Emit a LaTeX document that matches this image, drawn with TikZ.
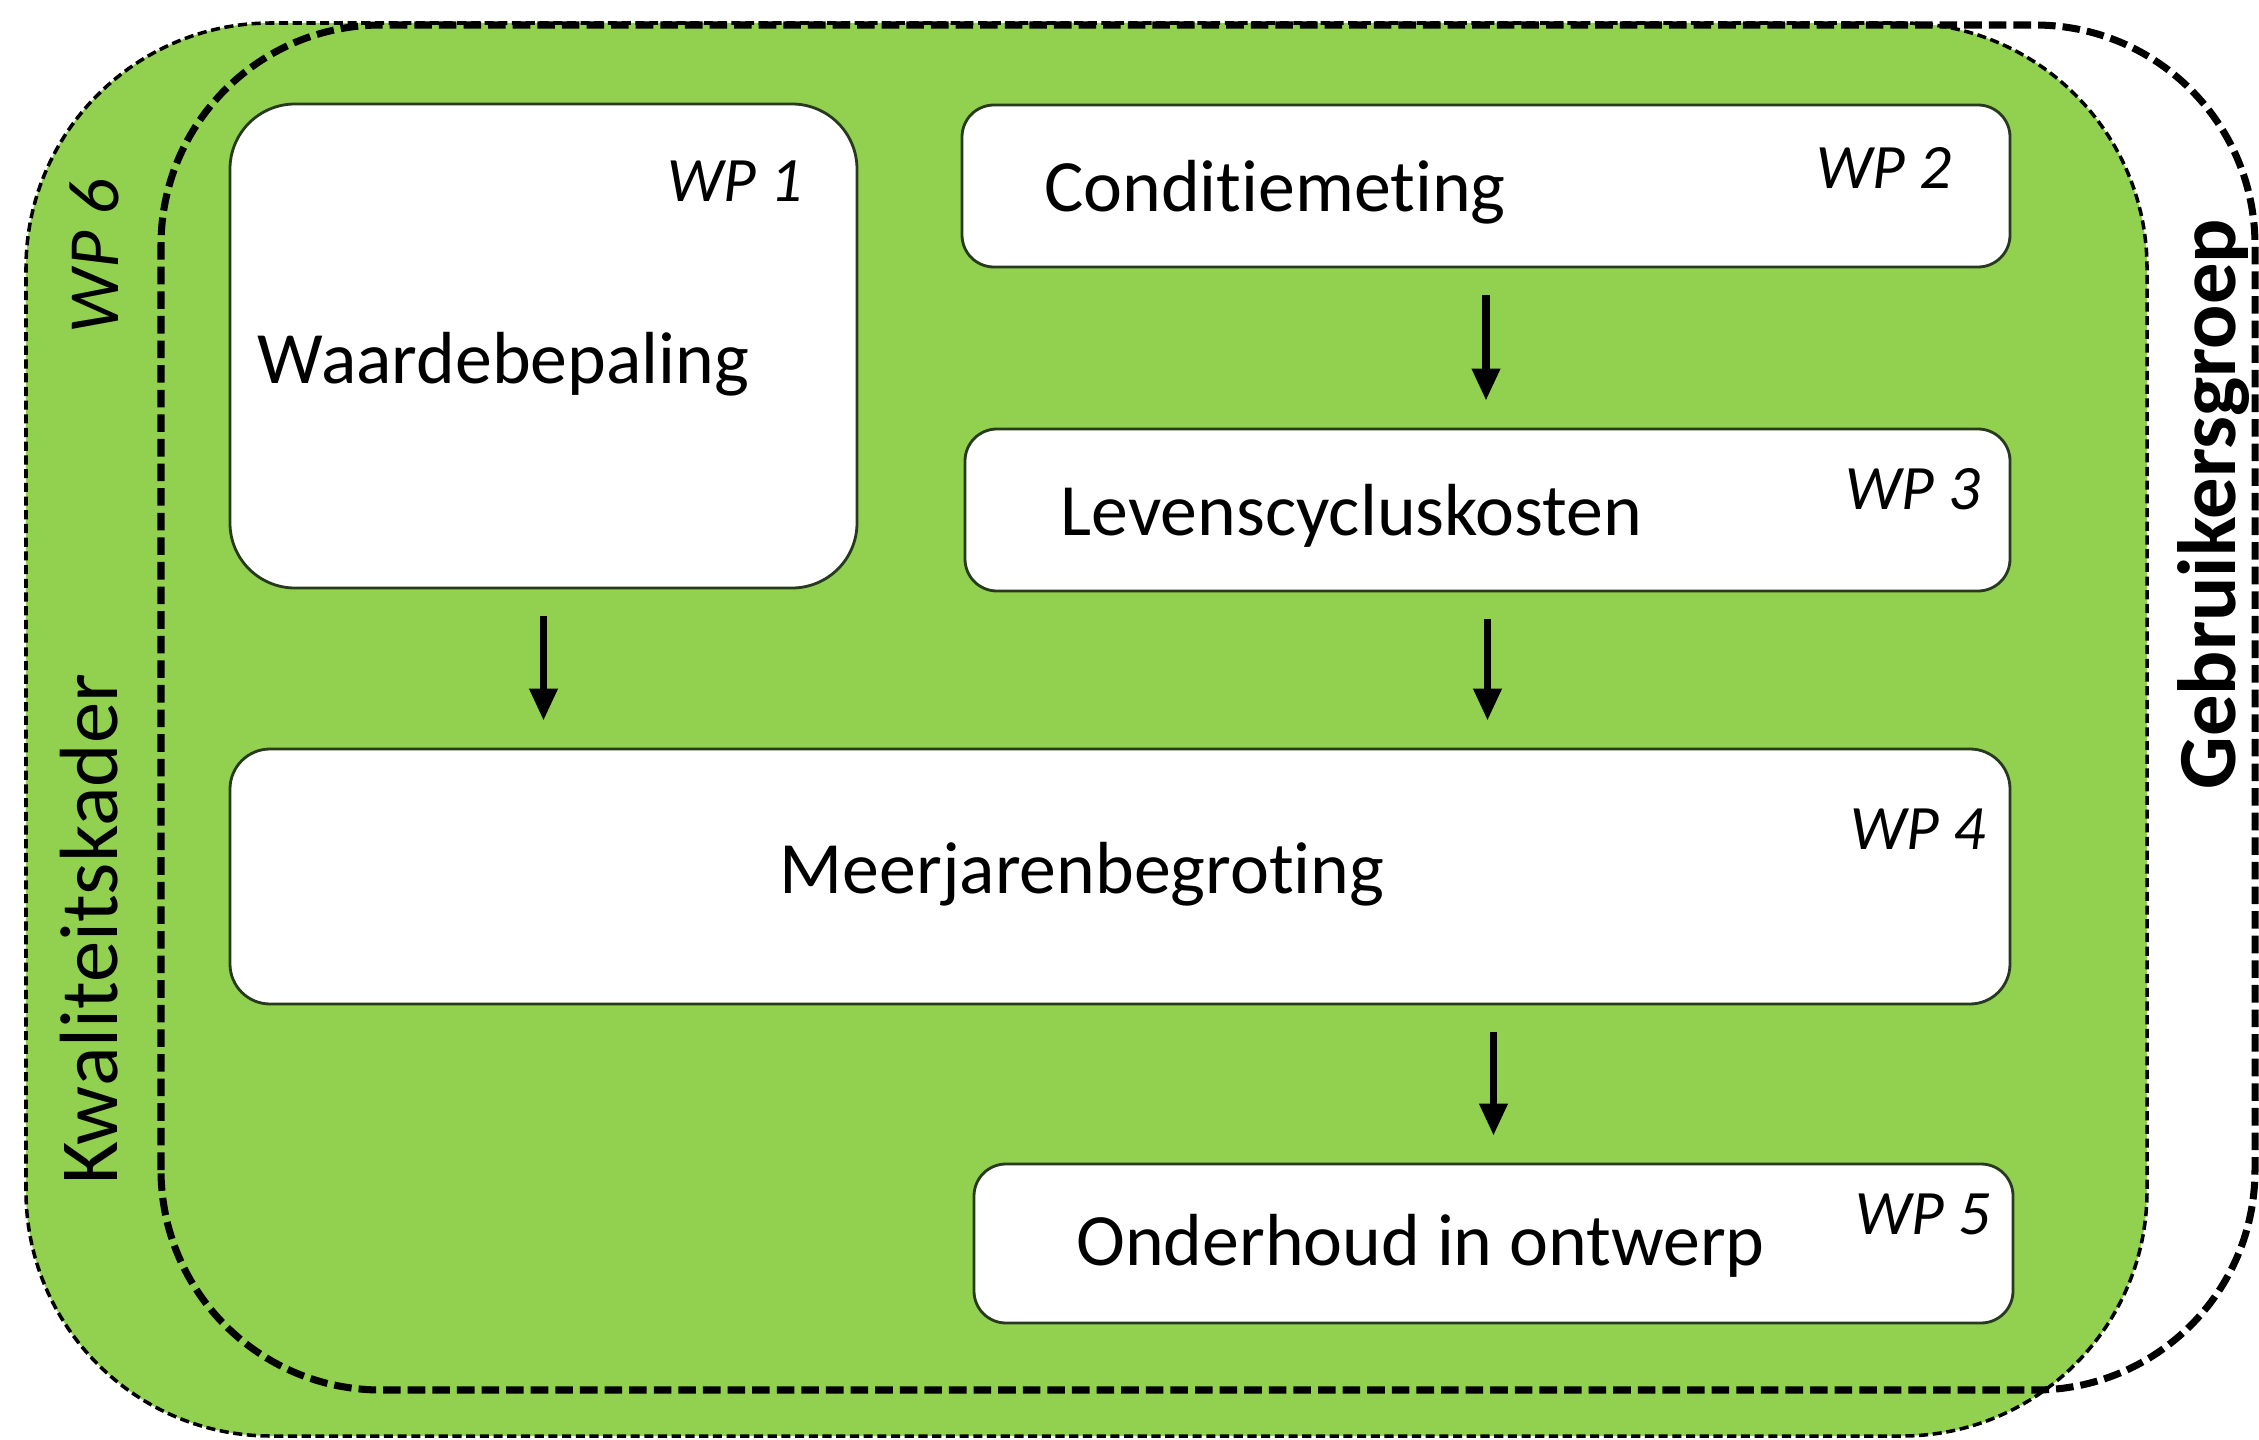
\documentclass[tikz,border=0pt]{standalone}
\usepackage{fontspec}
\setmainfont{Carlito}[Ligatures=NoCommon]
\usepackage{tikz}
\usetikzlibrary{positioning}
\usetikzlibrary{arrows.meta}
\usepackage{xcolor}

\definecolor{wpgreen}{RGB}{146,208,80}
\definecolor{wpedge}{RGB}{40,58,30}

\tikzset{
  wpbox/.style={rectangle, draw=wpedge, line width=0.8pt, fill=white, rounded corners=0.32cm, inner sep=0pt},
  wptext/.style={font=\fontsize{21}{25}\selectfont, inner sep=0pt},
  wplabel/.style={font=\fontsize{18}{22}\selectfont\itshape, inner sep=0pt},
  flow/.style={-{Triangle[length=0.32cm,width=0.27cm]}, line width=2pt, shorten <=0.27cm, shorten >=0.27cm},
}

\begin{document}
\begin{tikzpicture}
    \useasboundingbox (0,0) rectangle (22.59,14.39);

    % Frames
    \draw[fill=wpgreen, line width=1pt, dash pattern=on 2.6pt off 1.3pt, rounded corners=2.45cm] (0.26,0.03) rectangle (21.47,14.16);
    \draw[line width=2pt, dash pattern=on 5pt off 2pt, rounded corners=2.2cm] (1.61,0.49) rectangle (22.55,14.14);

    % Define nodes
    \node[wpbox, minimum width=6.27cm, minimum height=4.84cm, rounded corners=0.65cm] (wp1) at (5.435,10.93) {};
    \node[wpbox, minimum width=10.48cm, minimum height=1.62cm] (wp2) at (14.86,12.53) {};
    \node[wpbox, minimum width=10.45cm, minimum height=1.62cm] (wp3) at (14.875,9.29) {};
    \node[wpbox, minimum width=17.8cm, minimum height=2.55cm, rounded corners=0.4cm] (wp4) at (11.2,5.625) {};
    \node[wpbox, minimum width=10.39cm, minimum height=1.59cm] (wp5) at (14.935,1.955) {};

    % Texts
    \node[wptext] (waarde) at ([xshift=-0.4cm, yshift=-0.18cm]wp1.center) {Waardebepaling};
    \node[wptext] (conditie) at ([xshift=-2.11cm, yshift=-0.06cm]wp2.center) {Conditiemeting};
    \node[wptext] (levens) at ([xshift=-1.36cm, yshift=-0.06cm]wp3.center) {Levenscycluskosten};
    \node[wptext] (meerjaren) at ([xshift=-0.38cm, yshift=0.02cm]wp4.center) {Meerjarenbegroting};
    \node[wptext] (onderhoud) at ([xshift=-0.73cm, yshift=-0.02cm]wp5.center) {Onderhoud in ontwerp};

    \node[wplabel, below left=0.58cm and 0.55cm of wp1.north east] (lab1) {WP 1};
    \node[wplabel, below left=0.43cm and 0.59cm of wp2.north east] (lab2) {WP 2};
    \node[wplabel, below left=0.40cm and 0.30cm of wp3.north east] (lab3) {WP 3};
    \node[wplabel, below left=0.61cm and 0.25cm of wp4.north east] (lab4) {WP 4};
    \node[wplabel, below left=0.31cm and 0.23cm of wp5.north east] (lab5) {WP 5};

    \node[font=\fontsize{20.5}{24}\selectfont\itshape, rotate=90, inner sep=0pt] (lab6) at (0.94,11.83) {WP 6};
    \node[font=\fontsize{23.5}{28}\selectfont, rotate=90, inner sep=0pt] (kader) at (0.89,5.10) {Kwaliteitskader};
    \node[font=\fontsize{23.5}{28}\selectfont\bfseries, rotate=90, inner sep=0pt] (groep) at (22.14,9.35) {Gebruikersgroep};

    % Connect the nodes
    \draw[flow] (wp1.south) -- (wp1.south |- wp4.north);
    \draw[flow] (wp2.south) -- (wp2.south |- wp3.north);
    \draw[flow] (wp3.south) -- (wp3.south |- wp4.north);
    \draw[flow] (wp5.north |- wp4.south) -- (wp5.north);

\end{tikzpicture}
\end{document}
